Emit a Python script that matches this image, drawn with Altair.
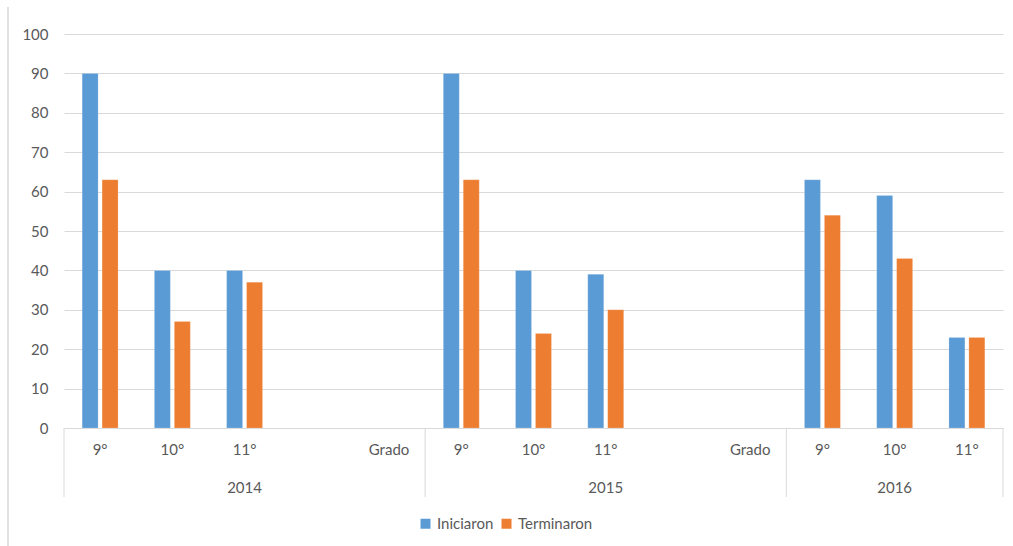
import altair as alt
import pandas as pd

# ---- data ----
slot_year = ["2014"] * 5 + ["2015"] * 5 + ["2016"] * 3
slot_grade = ["9°", "10°", "11°", "", "Grado",
              "9°", "10°", "11°", "", "Grado",
              "9°", "10°", "11°"]
iniciaron = [90, 40, 40, None, None, 90, 40, 39, None, None, 63, 59, 23]
terminaron = [63, 27, 37, None, None, 63, 24, 30, None, None, 54, 43, 23]
series = ["Iniciaron", "Terminaron"]
colors = ["#5B9BD5", "#ED7D31"]
years = ["2014", "2015", "2016"]

keys = [f"{y}|{g}" for y, g in zip(slot_year, slot_grade)]

rows = []
for k, a, b in zip(keys, iniciaron, terminaron):
    if a is not None:
        rows.append({"key": k, "series": series[0], "value": a})
    if b is not None:
        rows.append({"key": k, "series": series[1], "value": b})
df = pd.DataFrame(rows)

# year labels at middle slot of each year; separators at year boundaries
year_rows, first_rows = [], []
for y in years:
    ks = [k for k, yy in zip(keys, slot_year) if yy == y]
    year_rows.append({"year": y, "key": ks[(len(ks) - 1) // 2] if len(ks) % 2 else ks[len(ks) // 2]})
    first_rows.append({"key": ks[0]})
year_df = pd.DataFrame(year_rows)
first_df = pd.DataFrame(first_rows)
last_df = pd.DataFrame([{"key": keys[-1]}])

W, H = 939, 394
FONT = "Lato"
GRAY = "#595959"
LINE = "#d9d9d9"

xscale = alt.Scale(domain=keys, paddingInner=0, paddingOuter=0)

bars = alt.Chart(df).mark_bar(stroke="white", strokeOpacity=0.35, strokeWidth=0.5).encode(
    x=alt.X("key:N", scale=xscale, sort=keys,
            axis=alt.Axis(title=None, labelAngle=0, ticks=False, grid=False,
                          domainColor=LINE, labelPadding=14,
                          labelExpr="split(datum.label, '|')[1]")),
    xOffset=alt.XOffset("series:N", scale=alt.Scale(domain=series, paddingInner=0.2, paddingOuter=0.91)),
    y=alt.Y("value:Q", scale=alt.Scale(domain=[0, 100], nice=False),
            axis=alt.Axis(title=None, values=list(range(0, 101, 10)), ticks=False,
                          domain=False, gridColor=LINE, labelPadding=16)),
    color=alt.Color("series:N", scale=alt.Scale(domain=series, range=colors),
                    legend=alt.Legend(title=None, orient="none", legendX=354, legendY=482,
                                      direction="horizontal", symbolType="square",
                                      symbolSize=100, symbolStrokeWidth=0,
                                      columnPadding=5, labelOffset=4)),
)

year_text = alt.Chart(year_df).mark_text(font=FONT, fontSize=15, color=GRAY, baseline="middle").encode(
    x=alt.X("key:N", scale=xscale, sort=keys),
    y=alt.value(H + 60),
    text="year:N",
)

sep_first = alt.Chart(first_df).mark_rule(color=LINE, strokeWidth=1).encode(
    x=alt.X("key:N", scale=xscale, sort=keys, bandPosition=0),
    y=alt.value(H),
    y2=alt.value(H + 69),
)
sep_last = alt.Chart(last_df).mark_rule(color=LINE, strokeWidth=1).encode(
    x=alt.X("key:N", scale=xscale, sort=keys, bandPosition=1),
    y=alt.value(H),
    y2=alt.value(H + 69),
)
frame = alt.Chart(last_df).mark_rule(color=LINE, strokeWidth=1.5).encode(
    x=alt.value(-56),
    y=alt.value(-27),
    y2=alt.value(H + 118),
)

chart = alt.layer(bars, year_text, sep_first, sep_last, frame).properties(
    width=W, height=H,
    autosize=alt.AutoSizeParams(type="none"),
    padding={"left": 64, "top": 34, "right": 10, "bottom": 118},
).configure_view(stroke=None).configure_axis(
    labelFont=FONT, labelFontSize=15, labelColor=GRAY,
).configure_legend(
    labelFont=FONT, labelFontSize=15, labelColor=GRAY,
)

chart.save("out.html", embed_options={"renderer": "svg", "actions": False})
